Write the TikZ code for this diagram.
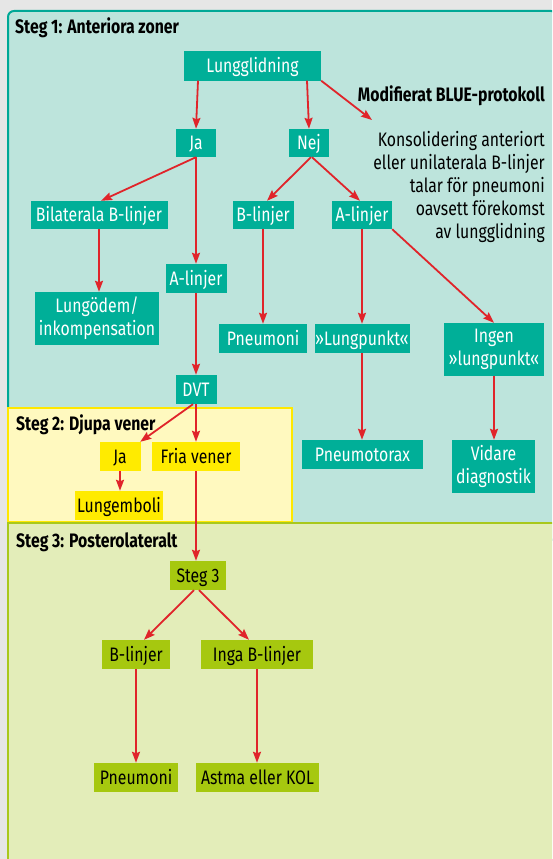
\documentclass[tikz,border=0pt]{standalone}
\usepackage{fontspec}
\setmainfont{Fira Sans}[FakeStretch=0.81]
\usetikzlibrary{arrows.meta,calc}
\definecolor{bgcol}{HTML}{E6E6E6}
\definecolor{tealfill}{HTML}{BDE4DC}
\definecolor{tealline}{HTML}{00A896}
\definecolor{tealbox}{HTML}{00AF98}
\definecolor{yelfill}{HTML}{FFF9BF}
\definecolor{yelline}{HTML}{FFE800}
\definecolor{yelbox}{HTML}{FFEB00}
\definecolor{grnfill}{HTML}{E3EDB9}
\definecolor{grnline}{HTML}{A9C81C}
\definecolor{grnbox}{HTML}{A6C80F}
\definecolor{arrred}{HTML}{E0242A}
\begin{document}
\begin{tikzpicture}[x=1pt,y=-1pt,
  box/.style={rectangle, inner sep=0pt, font=\fontsize{19.5}{23}\selectfont, align=center},
  one/.style={text height=13pt, text depth=0pt},
  dims/.style 2 args={minimum width=#1pt, minimum height=#2pt},
  tbox/.style={box, fill=tealbox, text=white},
  ybox/.style={box, fill=yelbox, text=black},
  gbox/.style={box, fill=grnbox, text=black},
  title/.style={inner sep=0pt, anchor=base west, font=\fontsize{19.5}{22}\selectfont\bfseries},
  arr/.style={draw=arrred, line width=1.8pt, -{Stealth[length=11pt,width=8pt,inset=1.5pt]}}
]
\useasboundingbox (0,0) rectangle (552,859);
\clip (0,0) rectangle (552,859);
\fill[bgcol] (0,0) rectangle (552,859);
% panels
\draw[fill=tealfill, draw=tealline, line width=2pt, rounded corners=6pt] (8,11) rectangle (557,540);
\draw[fill=yelfill, draw=yelline, line width=2.5pt] (8,408) rectangle (292,522);
\draw[fill=grnfill, draw=grnline, line width=2pt] (8,523) rectangle (557,866);
% titles
\node[title] (t1) at (15,34) {Steg 1: Anteriora zoner};
\node[title] (t2) at (16,430) {Steg 2: Djupa vener};
\node[title] (t3) at (16,547) {Steg 3: Posterolateralt};
\node[inner sep=0pt, anchor=base east, font=\fontsize{19.5}{22}\selectfont\bfseries] (blue) at (545,101.5) {Modifierat BLUE-protokoll};
\node[inner sep=0pt, anchor=north east, align=right, font=\fontsize{19.5}{23}\selectfont] (kons) at (545,131.5)
  {Konsolidering anteriort\\eller unilaterala B-linjer\\talar för pneumoni\\oavsett förekomst\\av lungglidning};
% step 1 boxes
\node[tbox, one, dims={137}{29}] (lung) at (252.5,66) {Lungglidning};
\node[tbox, one, dims={40}{28}] (ja) at (196,143) {Ja};
\node[tbox, one, dims={40}{28}] (nej) at (309,143) {Nej};
\node[tbox, one, dims={137}{28}] (bilat) at (99,215) {Bilaterala B-linjer};
\node[tbox, one, dims={61}{28}] (blin) at (263,215) {B-linjer};
\node[tbox, one, dims={60}{28}] (alin) at (362,215) {A-linjer};
\node[tbox, one, dims={61}{29}] (alin1) at (196,278.5) {A-linjer};
\node[tbox, dims={124}{53}] (lod) at (97,318.5) {Lungödem/\\inkompensation};
\node[tbox, one, dims={88}{29}] (pneu) at (263,338.5) {Pneumoni};
\node[tbox, one, dims={95}{29}] (lp) at (362,338.5) {»Lungpunkt«};
\node[tbox, dims={100}{53}] (ingen) at (494,349.5) {Ingen\\»lungpunkt«};
\node[tbox, one, dims={41}{29}] (dvt) at (196,389.5) {DVT};
\node[tbox, one, dims={121}{29}] (ptx) at (362.5,454.5) {Pneumotorax};
\node[tbox, dims={83}{53}] (vid) at (493.5,466.5) {Vidare\\diagnostik};
% step 2 boxes
\node[ybox, one, dims={41}{29}] (ja2) at (120,456.5) {Ja};
\node[ybox, one, dims={88}{29}] (fria) at (196,456.5) {Fria vener};
\node[ybox, one, dims={88}{29}] (lemb) at (119,505.5) {Lungemboli};
% step 3 boxes
\node[gbox, one, dims={56}{29}] (steg3) at (198,575.5) {Steg 3};
\node[gbox, one, dims={68}{29}] (b3) at (136,654.5) {B-linjer};
\node[gbox, one, dims={112}{29}] (inga) at (257,654.5) {Inga B-linjer};
\node[gbox, one, dims={84}{29}] (pneu3) at (136,777.5) {Pneumoni};
\node[gbox, one, dims={123}{29}] (astma) at (257.5,777.5) {Astma eller KOL};
\coordinate (blueend) at (372,120);
% arrows
\draw[arr] ([xshift=-54.5pt]lung.south) -- (ja.north);
\draw[arr] ([xshift=54.5pt]lung.south) -- (nej.north);
\draw[arr] (lung.south east) -- (blueend);
\draw[arr] (ja.south) -- ([xshift=2pt]bilat.north);
\draw[arr] (ja.south) -- (ja.south |- alin1.north);
\draw[arr] ([xshift=2pt]nej.south) -- ([xshift=4pt]blin.north);
\draw[arr] ([xshift=3pt]nej.south) -- ([xshift=-2pt]alin.north);
\draw[arr] (bilat.south) -- (bilat.south |- lod.north);
\draw[arr] (blin.south) -- (blin.south |- pneu.north);
\draw[arr] (alin.south) -- (alin.south |- lp.north);
\draw[arr] (alin.south east) -- (ingen.north);
\draw[arr] (alin1.south) -- (alin1.south |- dvt.north);
\draw[arr] (lp.south) -- (lp.south |- ptx.north);
\draw[arr] (ingen.south) -- (ingen.south |- vid.north);
\draw[arr] ([xshift=-3pt]dvt.south) -- ([xshift=-0.5pt]ja2.north east);
\draw[arr] (dvt.south) -- (dvt.south |- fria.north);
\draw[arr] (ja2.south) -- (ja2.south |- lemb.north);
\draw[arr] (fria.south) -- (fria.south |- steg3.north);
\draw[arr] ([xshift=-4pt]steg3.south) -- ([xshift=8pt]b3.north);
\draw[arr] ([xshift=1pt]steg3.south) -- ([xshift=-8pt]inga.north);
\draw[arr] (b3.south) -- (b3.south |- pneu3.north);
\draw[arr] (inga.south) -- (inga.south |- astma.north);
\end{tikzpicture}
\end{document}
